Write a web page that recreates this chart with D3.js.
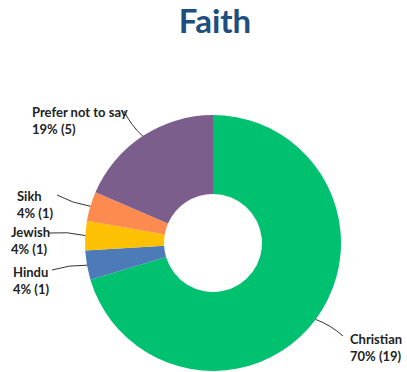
<!DOCTYPE html>
<html>
<head>
<meta charset="utf-8">
<script src="https://cdn.jsdelivr.net/npm/d3@7"></script>
<style>
  html, body { margin: 0; padding: 0; background: #fff; }
  svg { display: block; }
</style>
</head>
<body>
<svg id="chart" width="407" height="372"></svg>
<script>
// Faith breakdown (respondent counts)
const categories = ["Christian", "Hindu", "Jewish", "Sikh", "Prefer not to say"];
const counts = [19, 1, 1, 1, 5];
const percentLabels = ["70%", "4%", "4%", "4%", "19%"];
const colors = ["#00c170", "#4d7bb8", "#fdc003", "#fd8b4f", "#7c5e8d"];

// Label placement: text anchor point and leader line end
const labelLayout = [
  { x: 350, y: 344, lx: 343, ly: 336, bend: -1 },
  { x: 13,  y: 277, lx: 52,  ly: 270, bend: 1 },
  { x: 11,  y: 237, lx: 49,  ly: 233, bend: 1 },
  { x: 17,  y: 201, lx: 57,  ly: 195, bend: -1 },
  { x: 32,  y: 117, lx: 124, ly: 111, bend: -1 }
];

const svg = d3.select("#chart");
const cx = 213, cy = 243, outerR = 128, innerR = 49;

svg.append("text")
  .attr("x", 215).attr("y", 33)
  .attr("text-anchor", "middle")
  .attr("font-family", "Lato, 'Open Sans', sans-serif")
  .attr("font-weight", 700)
  .attr("font-size", 33)
  .attr("fill", "#1e4e7d")
  .text("Faith");

const data = categories.map((c, i) => ({ name: c, value: counts[i], pct: percentLabels[i], color: colors[i], layout: labelLayout[i] }));

const pie = d3.pie().value(d => d.value).sort(null);
const arc = d3.arc().innerRadius(innerR).outerRadius(outerR);
const arcs = pie(data);

const g = svg.append("g").attr("transform", `translate(${cx},${cy})`);
g.selectAll("path.slice")
  .data(arcs)
  .join("path")
  .attr("class", "slice")
  .attr("d", arc)
  .attr("fill", d => d.data.color);

// Curved leader lines from each slice edge to its label
const lines = svg.append("g");
arcs.forEach(a => {
  const mid = (a.startAngle + a.endAngle) / 2;
  const sx = cx + outerR * Math.sin(mid);
  const sy = cy - outerR * Math.cos(mid);
  const L = a.data.layout;
  const mx = (sx + L.lx) / 2, my = (sy + L.ly) / 2;
  const dx = L.lx - sx, dy = L.ly - sy;
  const len = Math.hypot(dx, dy);
  const off = 3 * L.bend;
  const qx = mx + (-dy / len) * off, qy = my + (dx / len) * off;
  lines.append("path")
    .attr("d", `M${sx},${sy} Q${qx},${qy} ${L.lx},${L.ly}`)
    .attr("fill", "none")
    .attr("stroke", "#333")
    .attr("stroke-width", 1);
});

const labels = svg.append("g")
  .attr("font-family", "Lato, 'Open Sans', sans-serif")
  .attr("font-weight", 700)
  .attr("font-size", 13)
  .attr("fill", "#222");
data.forEach(d => {
  const t = labels.append("text").attr("x", d.layout.x).attr("y", d.layout.y);
  t.append("tspan").attr("x", d.layout.x).text(d.name);
  t.append("tspan").attr("x", d.layout.x).attr("dy", 17).text(`${d.pct} (${d.value})`);
});
</script>
</body>
</html>
